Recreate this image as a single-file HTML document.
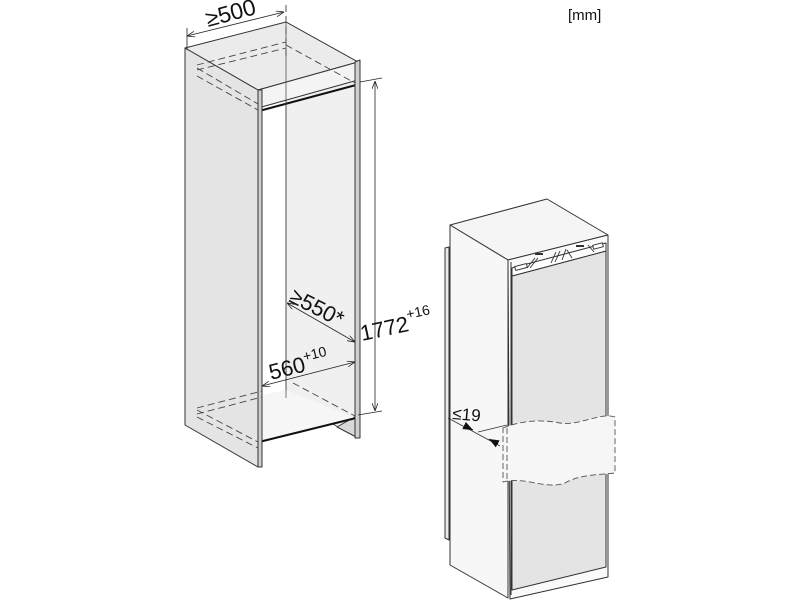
<!DOCTYPE html>
<html><head><meta charset="utf-8"><style>
html,body{margin:0;padding:0;background:#fff;width:800px;height:600px;overflow:hidden}
svg{display:block}
text{font-family:"Liberation Sans",sans-serif;fill:#111}
</style></head><body>
<svg width="800" height="600" viewBox="0 0 800 600" xmlns="http://www.w3.org/2000/svg">
<defs>
<marker id="a" markerWidth="8" markerHeight="6" refX="8" refY="3" orient="auto-start-reverse" markerUnits="userSpaceOnUse"><path d="M0,0 L8,3 L0,6" fill="none" stroke="#222" stroke-width="0.8"/></marker>
<marker id="f" markerWidth="10" markerHeight="8" refX="10" refY="4" orient="auto-start-reverse" markerUnits="userSpaceOnUse"><path d="M0,0 L10,4 L0,8z" fill="#111"/></marker>
</defs>
<g stroke="#333" stroke-width="1" stroke-linejoin="round">
<polygon points="286,22 358,62 358,438 286,398" fill="#f0f0f0"/>
<polygon points="337,427 358,438 358,415" fill="#d8d8d8"/>
<polygon points="185,48 286,22 358,62 258,90" fill="#ebebeb"/>
<polygon points="258,90 358,62 358,80 258,108" fill="#f4f4f4"/>
<line x1="259" y1="111" x2="356" y2="85" stroke="#111" stroke-width="2"/>
<polygon points="258,443 355,418 286,390 262,395" fill="#f6f6f6" stroke="none"/>
<line x1="259" y1="442" x2="356" y2="418" stroke="#111" stroke-width="2"/>
<polygon points="185,48 258,90 258,467 185,425" fill="#e4e4e4"/>
<polygon points="258,90 262,90 262,467 258,467" fill="#cfcfcf"/>
<polygon points="355,62 360,60 360,438 355,438" fill="#cfcfcf"/>
<line x1="286" y1="22" x2="286" y2="398" stroke="#555" stroke-width="0.8"/>
</g>
<g stroke="#444" stroke-width="0.9" fill="none" stroke-dasharray="7,4">
<line x1="286" y1="5" x2="286" y2="60"/>
<line x1="197" y1="65" x2="286" y2="42"/>
<line x1="197" y1="70" x2="286" y2="48"/>
<line x1="197" y1="68" x2="258" y2="104"/>
<line x1="197" y1="76" x2="258" y2="110"/>
<line x1="286" y1="45" x2="355" y2="83"/>
<line x1="197" y1="408" x2="262" y2="391"/>
<line x1="197" y1="414" x2="262" y2="397"/>
<line x1="197" y1="410" x2="258" y2="442"/>
<line x1="197" y1="417" x2="258" y2="448"/>
<line x1="293" y1="383" x2="355" y2="416"/>
</g>
<g stroke="#222" stroke-width="0.8" fill="none">
<line x1="187" y1="28" x2="187" y2="50"/>
<line x1="187" y1="36" x2="284" y2="12" marker-start="url(#a)" marker-end="url(#a)"/>
<line x1="360" y1="82" x2="382" y2="78"/>
<line x1="358" y1="415" x2="382" y2="411"/>
<line x1="375" y1="81" x2="375" y2="411" marker-start="url(#a)" marker-end="url(#a)"/>
<line x1="287" y1="303" x2="355" y2="342" marker-start="url(#a)" marker-end="url(#a)"/>
<line x1="262" y1="386" x2="355" y2="362" marker-start="url(#a)" marker-end="url(#a)"/>
</g>
<text x="208" y="27" font-size="23" transform="rotate(-15 208 27)">≥500</text>
<text x="288" y="301" font-size="22" transform="rotate(27 288 301)">≥550*</text>
<text x="362" y="341" font-size="22" transform="rotate(-12 362 341)">1772<tspan font-size="14" dy="-12">+16</tspan></text>
<text x="271" y="380" font-size="22" transform="rotate(-14 271 380)">560<tspan font-size="14" dy="-10">+10</tspan></text>
<text x="568" y="20" font-size="15">[mm]</text>
<g stroke="#333" stroke-width="1" stroke-linejoin="round">
<polygon points="445,248 449,247 449,540 445,538" fill="#eaeaea"/>
<polygon points="450,225 547,199 608,235 508,260" fill="#f5f5f5"/>
<polygon points="450,225 508,260 508,598 450,565" fill="#f7f7f7"/>
<polygon points="508,260 608,235 608,577 510,599" fill="#fafafa"/>
<polygon points="512,276 606,251 606,567 512,590" fill="#e4e4e4"/>
<polygon points="512,268 606,243 606,251 512,276" fill="#fff"/>
<line x1="511" y1="262" x2="511" y2="595"/>
</g>
<g stroke="#333" stroke-width="0.9" fill="#fff">
<rect x="515" y="265" width="12" height="4" transform="rotate(-15 521 267)"/>
<line x1="527" y1="268" x2="535" y2="258"/>
<line x1="530" y1="268" x2="538" y2="258"/>
<line x1="551" y1="263" x2="556" y2="252"/>
<line x1="555" y1="262" x2="560" y2="251"/>
<line x1="562" y1="260" x2="566" y2="249"/>
<line x1="567" y1="250" x2="572" y2="258"/>
<rect x="593" y="244" width="10" height="4" transform="rotate(-15 598 246)"/>
<line x1="588" y1="245" x2="594" y2="252"/>
</g>
<g fill="#333"><rect x="535" y="253" width="8" height="2"/><rect x="576" y="245" width="8" height="2"/></g>
<path d="M503,428 C520,421 540,419 560,423 C580,426 600,412 615,417 L615,473 C600,475 580,474 565,483 C545,490 525,476 503,482 Z" fill="#f6f6f6" stroke="#555" stroke-width="0.9" stroke-dasharray="6,3"/>
<line x1="507" y1="428" x2="507" y2="482" stroke="#555" stroke-width="0.9" stroke-dasharray="6,3"/>
<line x1="478" y1="432" x2="507" y2="425" stroke="#333" stroke-width="0.9"/>
<line x1="448" y1="418" x2="500" y2="446" stroke="#333" stroke-width="0.8"/>
<line x1="465" y1="426" x2="473" y2="430" stroke="#111" stroke-width="1" marker-end="url(#f)"/>
<line x1="498" y1="444" x2="489" y2="439" stroke="#111" stroke-width="1" marker-end="url(#f)"/>
<text x="452" y="419" font-size="17" transform="rotate(5 452 419)">≤19</text>
</svg>
</body></html>
